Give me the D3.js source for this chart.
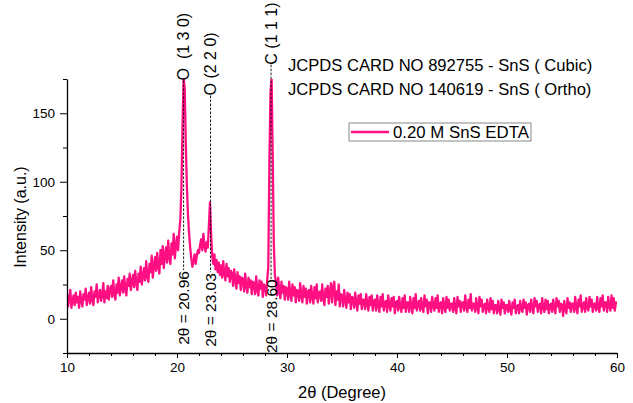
<!DOCTYPE html>
<html>
<head>
<meta charset="utf-8">
<script src="https://cdn.jsdelivr.net/npm/d3@7"></script>
<style>
  body { margin: 0; background: #fff; }
  svg { display: block; font-family: Arial, "Liberation Sans", sans-serif; }
</style>
</head>
<body>
<div id="chart"></div>
<script>
// XRD scan, 2theta from 10 to 60 deg in 0.1 deg steps (one row per degree)
var thetaStart = 10
var thetaStep = 0.1
var intensity = [
  18, 9, 15, 21, 8, 13, 17, 10, 19, 12,
  16, 8, 20, 13, 9, 18, 14, 22, 10, 15,
  19, 11, 23, 14, 10, 20, 16, 25, 12, 18,
  21, 13, 17, 26, 12, 20, 15, 24, 14, 22,
  24, 16, 28, 18, 14, 25, 19, 30, 17, 23,
  28, 19, 31, 22, 17, 29, 24, 33, 21, 27,
  32, 23, 35, 26, 21, 33, 27, 38, 25, 31,
  37, 28, 42, 31, 27, 40, 34, 46, 30, 38,
  45, 35, 48, 38, 33, 50, 40, 53, 37, 46,
  52, 41, 57, 45, 40, 55, 47, 62, 44, 53,
  60, 50, 63, 72, 95, 140, 176, 168, 128, 96,
  76, 62, 52, 44, 38, 42, 47, 40, 46, 50,
  48, 54, 58, 50, 62, 53, 49, 56, 52, 68,
  85, 62, 46, 40, 47, 36, 43, 34, 41, 32,
  39, 30, 42, 33, 28, 40, 31, 37, 27, 35,
  33, 24, 36, 28, 22, 34, 26, 31, 21, 30,
  29, 20, 33, 24, 19, 30, 23, 28, 18, 27,
  26, 18, 31, 21, 17, 28, 22, 27, 16, 25,
  24, 17, 28, 38, 115, 165, 176, 120, 55, 32,
  26, 17, 30, 20, 15, 27, 19, 24, 14, 23,
  22, 14, 27, 18, 13, 25, 17, 23, 12, 21,
  20, 13, 26, 17, 12, 24, 16, 22, 11, 20,
  21, 12, 24, 16, 11, 23, 15, 25, 12, 19,
  20, 13, 25, 15, 10, 22, 16, 24, 11, 19,
  26, 12, 23, 27, 10, 20, 14, 25, 9, 18,
  17, 9, 21, 13, 8, 19, 12, 18, 7, 16,
  15, 8, 19, 12, 6, 17, 11, 18, 7, 14,
  14, 7, 18, 11, 6, 16, 10, 17, 6, 13,
  14, 6, 17, 10, 5, 16, 9, 18, 6, 12,
  13, 5, 17, 10, 6, 15, 9, 16, 4, 12,
  13, 6, 16, 9, 5, 15, 8, 17, 5, 12,
  12, 5, 16, 9, 4, 15, 8, 18, 6, 11,
  13, 6, 15, 8, 5, 17, 9, 14, 4, 12,
  12, 5, 16, 9, 6, 15, 8, 17, 5, 11,
  12, 4, 15, 9, 5, 16, 8, 14, 6, 11,
  11, 5, 15, 8, 4, 16, 9, 13, 5, 12,
  12, 6, 17, 9, 5, 14, 8, 18, 6, 11,
  11, 5, 15, 8, 4, 16, 9, 14, 5, 10,
  11, 4, 14, 8, 5, 15, 7, 13, 4, 10,
  10, 4, 13, 7, 3, 14, 8, 12, 4, 10,
  10, 5, 13, 7, 3, 12, 8, 14, 4, 9,
  10, 4, 13, 7, 5, 14, 8, 12, 3, 10,
  11, 5, 14, 8, 4, 15, 9, 13, 5, 10,
  11, 4, 15, 8, 5, 14, 7, 13, 4, 10,
  11, 5, 14, 8, 4, 15, 9, 13, 5, 11,
  10, 2, 13, 7, 4, 15, 8, 12, 5, 11,
  11, 5, 16, 8, 4, 14, 9, 17, 5, 10,
  12, 5, 15, 8, 6, 16, 9, 14, 5, 11,
  11, 6, 16, 8, 5, 15, 9, 17, 6, 12,
  12, 5, 16, 9, 6, 17, 8, 15, 6, 12,
  11
]

// marked reflections
var peakPos = [20.6, 23.05, 28.55]
var peakAngles = ['2θ = 20.96', '2θ = 23.03', '2θ = 28.60']
var peakPlanes = ['O\u00a0\u00a0(1 3 0)', 'O (2 2 0)', 'C (1 1 1)']

var xMajor = [10, 20, 30, 40, 50, 60]
var yMajor = [0, 50, 100, 150]
var cardLines = ['JCPDS CARD NO 892755 - SnS ( Cubic)', 'JCPDS CARD NO 140619 - SnS ( Ortho)']
var seriesName = '0.20 M SnS EDTA'

var lineColor = '#ff0f82'
var width = 633, height = 403
var plot = { left: 67, right: 617, top: 79, bottom: 353 }

var svg = d3.select('#chart').append('svg')
    .attr('width', width)
    .attr('height', height)

var x = d3.scaleLinear().domain([10, 60]).range([plot.left, plot.right])
var y = d3.scaleLinear().domain([-25, 175]).range([plot.bottom, plot.top])

var data = intensity.map(function(v, i) {
    return { t: thetaStart + i * thetaStep, v: v }
})

svg.append('clipPath').attr('id', 'plotClip')
    .append('rect')
    .attr('x', plot.left).attr('y', plot.top)
    .attr('width', plot.right - plot.left)
    .attr('height', plot.bottom - plot.top)

// the scan
var line = d3.line()
    .x(d => x(d.t))
    .y(d => y(d.v))

svg.append('path')
    .datum(data)
    .attr('clip-path', 'url(#plotClip)')
    .attr('d', line)
    .attr('fill', 'none')
    .attr('stroke', lineColor)
    .attr('stroke-width', 2.3)
    .attr('stroke-linejoin', 'round')

// axes: minor ticks first, then majors with labels
svg.append('g')
    .attr('transform', 'translate(0,' + plot.bottom + ')')
    .call(d3.axisBottom(x).tickValues(d3.range(12, 60, 2).filter(d => d % 10)).tickSize(3).tickFormat(''))
    .call(g => g.select('.domain').remove())

var xAxis = svg.append('g')
    .attr('transform', 'translate(0,' + plot.bottom + ')')
    .call(d3.axisBottom(x).tickValues(xMajor).tickSizeInner(5).tickSizeOuter(0).tickPadding(4))
xAxis.selectAll('text').attr('font-size', 13.5).attr('fill', '#000').style('font-family', 'Arial, "Liberation Sans", sans-serif')
xAxis.select('.domain').attr('stroke-width', 1.3)

svg.append('g')
    .attr('transform', 'translate(' + plot.left + ',0)')
    .call(d3.axisLeft(y).tickValues([-25, 25, 75, 125, 175]).tickSize(4).tickFormat(''))
    .call(g => g.select('.domain').remove())

var yAxis = svg.append('g')
    .attr('transform', 'translate(' + plot.left + ',0)')
    .call(d3.axisLeft(y).tickValues(yMajor).tickSizeInner(7).tickSizeOuter(0).tickPadding(5))
yAxis.selectAll('text').attr('font-size', 13.5).attr('fill', '#000').style('font-family', 'Arial, "Liberation Sans", sans-serif')
yAxis.select('.domain').attr('stroke-width', 1.3)

// axis titles
svg.append('text')
    .attr('x', (plot.left + plot.right) / 2)
    .attr('y', 398)
    .attr('text-anchor', 'middle')
    .attr('font-size', 16.5)
    .text('2θ (Degree)')

svg.append('text')
    .attr('transform', 'translate(26,' + 217 + ') rotate(-90)')
    .attr('text-anchor', 'middle')
    .attr('font-size', 16)
    .text('Intensity (a.u.)')

// peak markers
var markTop = [172.5, 161.5, 184]
var markBottom = [35.5, 34, 28.5]
var angleStart = [-19, -20.5, -25]

var marks = svg.append('g')
peakPos.forEach(function(p, i) {
    var px = x(p)
    marks.append('line')
        .attr('x1', px).attr('x2', px)
        .attr('y1', y(markTop[i]) - 2).attr('y2', y(markBottom[i]))
        .attr('stroke', '#000')
        .attr('stroke-width', 0.9)
        .attr('stroke-dasharray', '2.5,1.5')
    marks.append('text')
        .attr('transform', 'translate(' + px + ',' + (y(markTop[i]) - 2) + ') rotate(-90)')
        .attr('dominant-baseline', 'central')
        .attr('font-size', 16)
        .text(peakPlanes[i])
    marks.append('text')
        .attr('transform', 'translate(' + px + ',' + y(angleStart[i]) + ') rotate(-90)')
        .attr('dominant-baseline', 'central')
        .attr('font-size', 15.5)
        .text(peakAngles[i])
})

// card references
svg.append('g').selectAll('text')
    .data(cardLines)
    .enter()
    .append('text')
    .attr('x', 288)
    .attr('y', (d, i) => 71 + i * 24)
    .attr('font-size', 16.6)
    .text(d => d)

// legend
var legend = svg.append('g').attr('transform', 'translate(349,123)')
legend.append('rect')
    .attr('width', 182).attr('height', 18)
    .attr('fill', '#fff')
    .attr('stroke', '#888')
legend.append('line')
    .attr('x1', 2).attr('x2', 40)
    .attr('y1', 9).attr('y2', 9)
    .attr('stroke', lineColor)
    .attr('stroke-width', 2.5)
legend.append('text')
    .attr('x', 44).attr('y', 15)
    .attr('font-size', 16.8)
    .text(seriesName)
</script>
</body>
</html>
